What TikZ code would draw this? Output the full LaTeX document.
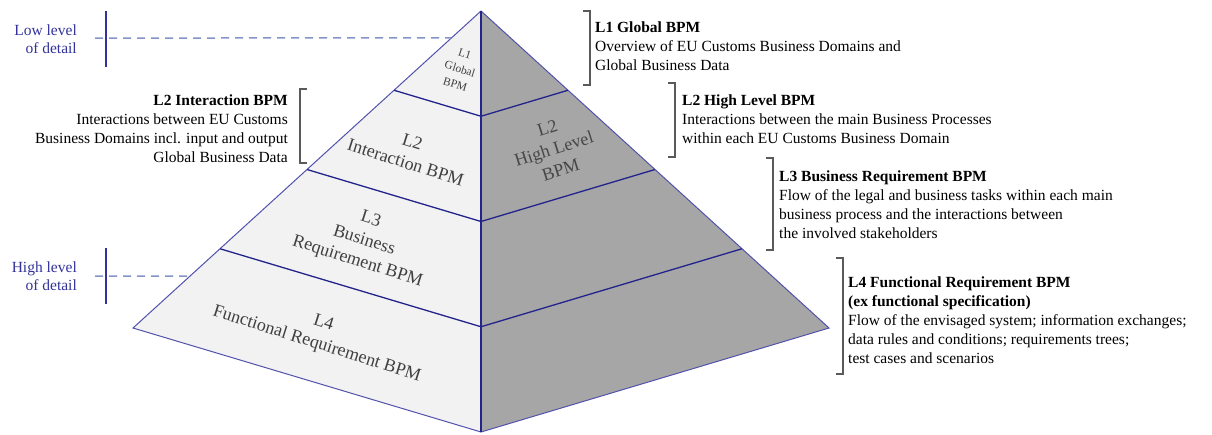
\documentclass[tikz,border=0pt]{standalone}
\usepackage{fontspec}
\setmainfont{Liberation Serif}
\usetikzlibrary{calc}
\definecolor{faceL}{HTML}{F2F2F2}
\definecolor{faceR}{HTML}{A6A6A6}
\definecolor{edgeblue}{HTML}{5252AC}
\definecolor{navy}{HTML}{23238C}
\definecolor{dashblue}{HTML}{8494C8}
\definecolor{detail}{HTML}{32329A}
\definecolor{brackgray}{HTML}{5A5A5A}
\definecolor{labL}{HTML}{404040}
\definecolor{labR}{HTML}{474747}
\tikzset{
  desc/.style={align=left, inner sep=0pt, font=\fontsize{15.5}{19}\selectfont},
  level/.style={align=center, inner sep=0pt, text=labL, font=\fontsize{18}{22}\selectfont},
  brack/.style={draw=brackgray, line width=1.2pt},
  dashline/.style={draw=dashblue, line width=1.5pt, dash pattern=on 8pt off 6pt},
  tick/.style={draw=detail, line width=1.2pt}
}
\begin{document}
\begin{tikzpicture}[x=1pt,y=-1pt]
\useasboundingbox (0,0) rectangle (1212,434);
% pyramid corners
\coordinate (apex) at (481,11);
\coordinate (lft) at (133,328);
\coordinate (bot) at (481,432);
\coordinate (rgt) at (829,328);
\fill[faceL] (apex) -- (lft) -- (bot) -- cycle;
\fill[faceR] (apex) -- (bot) -- (rgt) -- cycle;
\draw[edgeblue, line width=1pt, line join=miter] (apex) -- (lft) -- (bot) -- (rgt) -- cycle;
\draw[navy, line width=1.3pt] (apex) -- (bot);
\foreach \t in {0.25,0.5,0.75}
  \draw[navy, line width=1.3pt] ($(apex)!\t!(lft)$) -- ($(apex)!\t!(bot)$) -- ($(apex)!\t!(rgt)$);

% labels on the faces
\node[level, font=\fontsize{11.5}{16}\selectfont, rotate=-17.6] (l1) at (460,69) {L1\\Global\\BPM};
\node[level, rotate=-17.6] (l2) at (409,152) {L2\\Interaction BPM};
\node[level, text=labR, rotate=17.6] (l2h) at (554,149) {L2\\High Level\\BPM};
\node[level, rotate=-17.6] (l3) at (364,241) {L3\\Business\\Requirement BPM};
\node[level, rotate=-17.6] (l4) at (320,334) {L4\\Functional Requirement BPM};

% level of detail
\node[desc, align=right, text=detail, font=\fontsize{15.5}{18.5}\selectfont, anchor=east] (low) at (77,39) {Low level\\of detail};
\node[desc, align=right, text=detail, font=\fontsize{15.5}{18.5}\selectfont, anchor=east] (hgh) at (77,276) {High level\\of detail};
\coordinate (lowtick) at (95,38);
\coordinate (lowedge) at ($(apex)!{27/317}!(lft)$);
\coordinate (hghtick) at (95,276);
\coordinate (hghedge) at ($(apex)!{265/317}!(lft)$);
\draw[tick] (106,11) -- (106,67);
\draw[tick] (106,248) -- (106,304);
\draw[dashline] (lowtick) -- (lowedge);
\draw[dashline] (hghtick) -- (hghedge);

% descriptions
\node[desc, anchor=north west] (glob) at (595,22) {\textbf{L1 Global BPM}\\Overview of EU Customs Business Domains and\\Global Business Data};
\draw[brack] (583,11) -- (590,11) -- (590,85) -- (583,85);

\node[desc, align=right, anchor=north east] (inter) at (288,95) {\textbf{L2 Interaction BPM}\\Interactions between EU Customs\\Business Domains incl. input and output\\Global Business Data};
\draw[brack] (307,89) -- (300,89) -- (300,163) -- (307,163);

\node[desc, anchor=north west] (high) at (682,95) {\textbf{L2 High Level BPM}\\Interactions between the main Business Processes\\within each EU Customs Business Domain};
\draw[brack] (668,83) -- (675,83) -- (675,157) -- (668,157);

\node[desc, anchor=north west] (busreq) at (779,171) {\textbf{L3 Business Requirement BPM}\\Flow of the legal and business tasks within each main\\business process and the interactions between\\the involved stakeholders};
\draw[brack] (766,158) -- (773,158) -- (773,250) -- (766,250);

\node[desc, anchor=north west] (funreq) at (848,277) {\textbf{L4 Functional Requirement BPM}\\\textbf{(ex functional specification)}\\Flow of the envisaged system; information exchanges;\\data rules and conditions; requirements trees;\\test cases and scenarios};
\draw[brack] (836,258) -- (843,258) -- (843,374) -- (836,374);
\end{tikzpicture}
\end{document}
